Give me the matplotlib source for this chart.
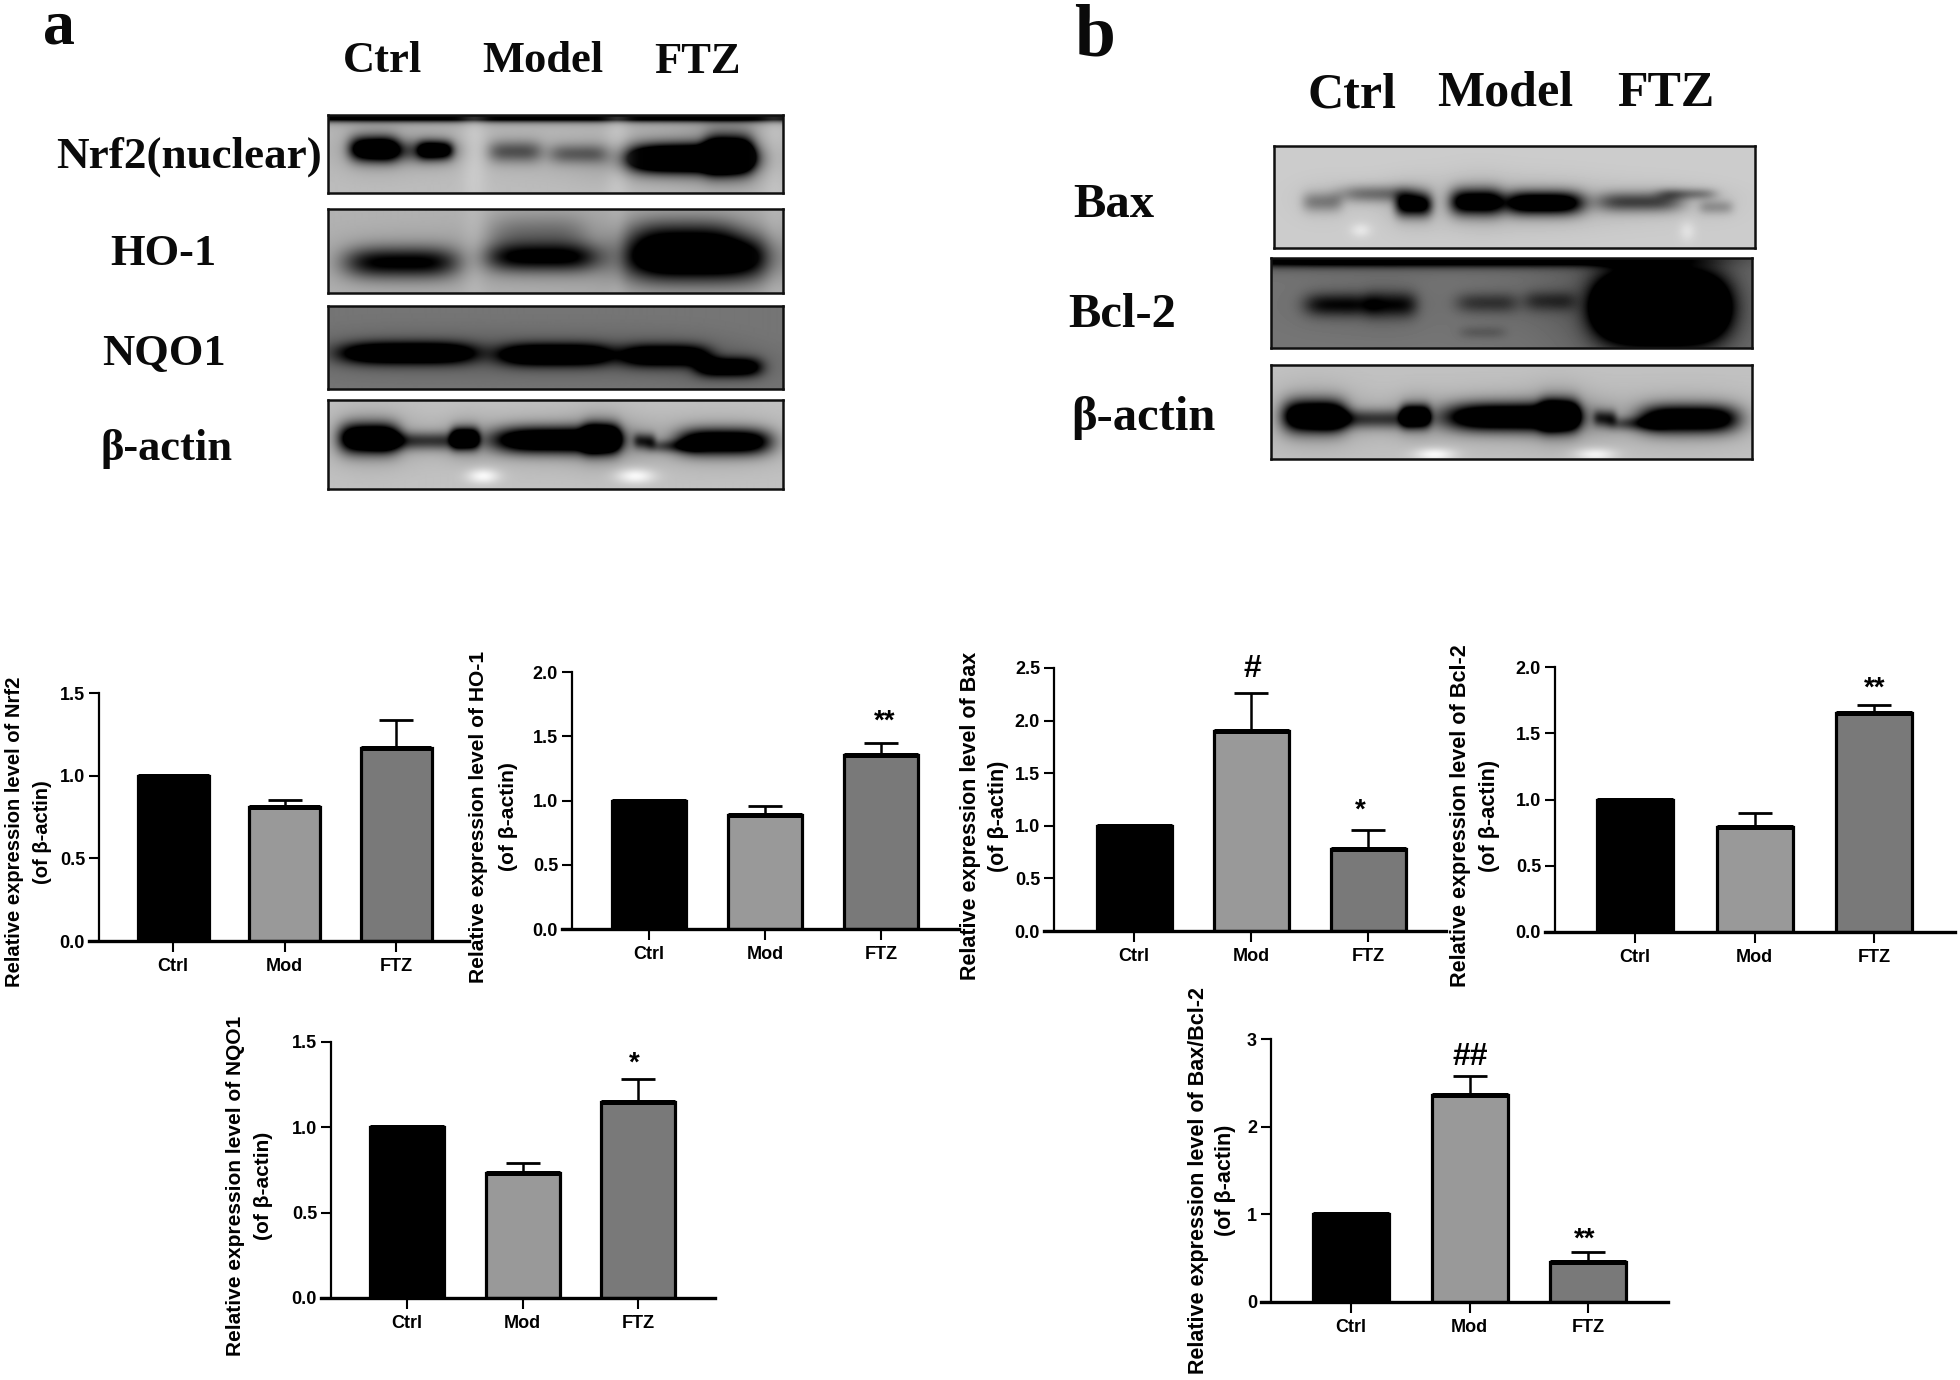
import numpy as np
import matplotlib
matplotlib.use("Agg")
import matplotlib.pyplot as plt

W, H = 1960, 1380
SANS = "Liberation Sans"
SERIF = "Liberation Serif"

groups = ["Ctrl", "Mod", "FTZ"]
bar_colors = ["#000000", "#999999", "#797979"]

nrf2_mean = [1.0, 0.81, 1.17]
nrf2_top = [1.0, 0.855, 1.335]
ho1_mean = [1.0, 0.89, 1.355]
ho1_top = [1.0, 0.955, 1.45]
bax_mean = [1.0, 1.90, 0.775]
bax_top = [1.0, 2.265, 0.96]
bcl2_mean = [1.0, 0.795, 1.65]
bcl2_top = [1.0, 0.90, 1.71]
nqo1_mean = [1.0, 0.735, 1.15]
nqo1_top = [1.0, 0.79, 1.285]
ratio_mean = [1.0, 2.36, 0.46]
ratio_top = [1.0, 2.58, 0.565]

ticks_15 = [0.0, 0.5, 1.0, 1.5]
ticks_20 = [0.0, 0.5, 1.0, 1.5, 2.0]
ticks_25 = [0.0, 0.5, 1.0, 1.5, 2.0, 2.5]
ticks_3 = [0, 1, 2, 3]

charts = [
    dict(name="Nrf2", mean=nrf2_mean, top=nrf2_top, ticks=ticks_15, fmt="{:.1f}",
         ax_x=99, x_end=469, y0=941, y_top=693, c1=173, c3=396, w=71,
         lab=(15, 43, 832, 14.5), sig=[]),
    dict(name="HO-1", mean=ho1_mean, top=ho1_top, ticks=ticks_20, fmt="{:.1f}",
         ax_x=572, x_end=959, y0=929, y_top=672, c1=649, c3=881, w=74,
         lab=(478, 508, 817, 15.1), sig=[("**", 885, 714)]),
    dict(name="Bax", mean=bax_mean, top=bax_top, ticks=ticks_25, fmt="{:.1f}",
         ax_x=1054, x_end=1446, y0=931, y_top=668, c1=1134, c3=1368, w=75,
         lab=(970, 998, 816, 15.5), sig=[("#", 1252, 666), ("*", 1360, 803)]),
    dict(name="Bcl-2", mean=bcl2_mean, top=bcl2_top, ticks=ticks_20, fmt="{:.1f}",
         ax_x=1555, x_end=1955, y0=932, y_top=667, c1=1635, c3=1874, w=76,
         lab=(1460, 1489, 816, 15.6), sig=[("**", 1875, 681)]),
    dict(name="NQO1", mean=nqo1_mean, top=nqo1_top, ticks=ticks_15, fmt="{:.1f}",
         ax_x=331, x_end=715, y0=1298, y_top=1042, c1=407, c3=638, w=74,
         lab=(235, 263, 1186, 15.0), sig=[("*", 634, 1056)]),
    dict(name="Bax/Bcl-2", mean=ratio_mean, top=ratio_top, ticks=ticks_3, fmt="{:d}",
         ax_x=1271, x_end=1668, y0=1302, y_top=1039, c1=1351, c3=1588, w=76,
         lab=(1198, 1226, 1180, 15.5), sig=[("##", 1470, 1054), ("**", 1585, 1232)]),
]

# band tuples: centre x, centre y, half width x, sigma y, strength (fractions of the blot)
blots = [
    dict(box=(328, 115, 783, 193), bg=0.74,
         bands=[(.10, .43, .045, .11, 1.2), (.235, .45, .032, .08, 1.0), (.17, .46, .09, .10, .5),
                (.41, .47, .05, .10, .5), (.55, .50, .055, .09, .42), (.79, .56, .115, .12, 2.0),
                (.88, .50, .045, .16, 1.4), (.5, .0, .9, .05, 1.6)],
         lights=[(.32, .5, .02, .6, .25), (.635, .5, .02, .6, .25), (.98, .5, .02, .6, .2)]),
    dict(box=(328, 209, 783, 293), bg=0.70,
         bands=[(.16, .64, .105, .13, .95), (.47, .58, .105, .12, .9), (.46, .30, .09, .17, .3),
                (.81, .58, .135, .19, 1.4), (.78, .30, .1, .15, .4)],
         lights=[(.32, .5, .02, .6, .15), (.635, .5, .015, .6, .12), (.98, .5, .02, .6, .15)]),
    dict(box=(328, 306, 783, 389), bg=0.46,
         bands=[(.175, .57, .125, .09, 1.8), (.50, .59, .105, .09, 1.8), (.74, .60, .08, .09, 1.6),
                (.88, .74, .06, .08, 1.5)],
         lights=[]),
    dict(box=(328, 400, 783, 489), bg=0.76,
         bands=[(.09, .43, .055, .115, 1.5), (.20, .46, .10, .07, .6), (.30, .43, .026, .08, 1.4),
                (.50, .45, .115, .10, 1.5), (.60, .43, .035, .11, 1.3), (.695, .46, .02, .06, .6),
                (.87, .47, .085, .10, 1.4), (.76, .52, .05, .05, .45)],
         lights=[(.34, .86, .025, .06, .9), (.675, .86, .03, .06, .9)]),
    dict(box=(1274, 146, 1755, 248), bg=0.80,
         bands=[(.10, .55, .035, .07, .35), (.22, .47, .07, .06, .4), (.29, .58, .032, .08, 1.1),
                (.42, .55, .045, .09, 1.2), (.56, .56, .07, .08, 1.3), (.76, .55, .075, .07, .6),
                (.86, .47, .05, .04, .35), (.92, .60, .03, .05, .25)],
         lights=[(.18, .83, .015, .05, .5), (.86, .84, .012, .07, .4)]),
    dict(box=(1271, 258, 1752, 348), bg=0.46,
         bands=[(.14, .52, .06, .09, .85), (.25, .52, .045, .10, .85), (.45, .50, .055, .08, .5),
                (.58, .48, .045, .08, .5), (.81, .55, .11, .23, 4.0), (.44, .83, .04, .05, .2),
                (.3, .0, .45, .06, 1.6)],
         lights=[]),
    dict(box=(1271, 365, 1752, 459), bg=0.76,
         bands=[(.09, .55, .055, .115, 1.5), (.20, .58, .10, .07, .6), (.30, .55, .026, .08, 1.4),
                (.50, .56, .115, .10, 1.5), (.60, .54, .035, .11, 1.3), (.695, .57, .02, .06, .6),
                (.87, .58, .085, .10, 1.4), (.76, .63, .05, .05, .45)],
         lights=[(.34, .96, .03, .05, .9), (.675, .96, .03, .05, .8)]),
]

# text, centre x, baseline y, font size
blot_labels = [
    ("a", 59, 44, 46), ("b", 1094, 55, 53),
    ("Ctrl", 382, 72, 32), ("Model", 543, 72, 32), ("FTZ", 697, 73, 32),
    ("Nrf2(nuclear)", 189, 168, 32.5), ("HO-1", 163, 265, 32), ("NQO1", 164, 365, 32),
    ("β-actin", 166, 460, 32),
    ("Ctrl", 1352, 108, 36), ("Model", 1505, 106, 36), ("FTZ", 1666, 106, 36),
    ("Bax", 1114, 217, 35), ("Bcl-2", 1122, 327, 35), ("β-actin", 1143, 430, 35),
]


def px_axes(l, t, r, b):
    return fig.add_axes([l / W, 1 - b / H, (r - l) / W, (b - t) / H])


fig = plt.figure(figsize=(W / 100, H / 100), dpi=100, facecolor="white")

for blot in blots:
    l, t, r, b = blot["box"]
    ax = px_axes(l, t, r, b)
    xx, yy = np.meshgrid(np.linspace(0, 1, r - l), np.linspace(0, 1, b - t))
    dark = np.zeros_like(xx)
    for cx, cy, sx, sy, amp in blot["bands"]:
        ux = np.abs(xx - cx) / sx
        dark += amp * np.exp(-0.5 * ux ** 4 - (yy - cy) ** 2 / (2 * sy ** 2))
        dark += 0.12 * amp * np.exp(-0.5 * (ux / 1.25) ** 2 - (yy - cy) ** 2 / (2 * (2 * sy) ** 2))
    light = np.zeros_like(xx)
    for cx, cy, sx, sy, amp in blot["lights"]:
        light += amp * np.exp(-((xx - cx) ** 2 / (2 * sx ** 2) + (yy - cy) ** 2 / (2 * sy ** 2)))
    gray = blot["bg"] * (1 - np.clip(dark, 0, 1))
    gray = gray + (1 - gray) * np.clip(light, 0, 1)
    ax.imshow(gray, cmap="gray", vmin=0, vmax=1, aspect="auto", interpolation="bilinear")
    ax.set_xticks([])
    ax.set_yticks([])
    for s in ax.spines.values():
        s.set_linewidth(1.8)
        s.set_color("#101010")

for txt, x, y, size in blot_labels:
    fig.text(x / W, 1 - y / H, txt, family=[SERIF, "DejaVu Serif"], weight="bold", fontsize=size,
             ha="center", va="baseline", color="#0a0a0a")

for c in charts:
    ax = px_axes(c["ax_x"], c["y_top"], c["x_end"], c["y0"])
    ax.patch.set_alpha(0)
    d = (c["c3"] - c["c1"]) / 2
    ax.set_xlim((c["ax_x"] - c["c1"]) / d, (c["x_end"] - c["c1"]) / d)
    ax.set_ylim(0, c["ticks"][-1])
    x = np.arange(3)
    bw = c["w"] / d
    for i in x:
        m, tp = c["mean"][i], c["top"][i]
        if tp > m:
            ax.errorbar(i, m, yerr=[[0], [tp - m]], color="black", elinewidth=1.8,
                        capsize=12.5, capthick=2.0, zorder=1)
        ax.bar(i, m, width=bw, color=bar_colors[i], edgecolor="black", linewidth=2.3, zorder=2)
        ax.hlines(m, i - bw / 2, i + bw / 2, color="black", linewidth=3.6, zorder=3)
    ax.spines["top"].set_visible(False)
    ax.spines["right"].set_visible(False)
    ax.spines["left"].set_linewidth(1.6)
    ax.spines["bottom"].set_linewidth(2.4)
    ax.spines["bottom"].set_bounds((c["ax_x"] - 10 - c["c1"]) / d, (c["x_end"] - c["c1"]) / d)
    ax.spines["bottom"].set_zorder(5)
    ax.set_xticks(x)
    ax.set_xticklabels(groups, family=SANS, weight="bold", fontsize=13)
    ax.set_yticks(c["ticks"])
    ax.set_yticklabels([c["fmt"].format(v) for v in c["ticks"]], family=SANS, weight="bold",
                       fontsize=13)
    ax.tick_params(axis="x", length=8, width=1.5, pad=4)
    ax.tick_params(axis="y", length=7, width=1.5, pad=3)
    x1, x2, yc, lab_size = c["lab"]
    fig.text(x1 / W, 1 - yc / H, "Relative expression level of " + c["name"], family=SANS,
             weight="bold", fontsize=lab_size, rotation=90, ha="center", va="center")
    fig.text(x2 / W, 1 - yc / H, "(of β-actin)", family=SANS, weight="bold", fontsize=lab_size,
             rotation=90, ha="center", va="center")
    for mark, mx, my in c["sig"]:
        off = 15 if "*" in mark else 11
        fig.text(mx / W, 1 - (my + off) / H, mark, family=SANS, weight="bold",
                 fontsize=20 if "*" in mark else 23, ha="center", va="baseline", color="black")

fig.savefig("out.png", dpi=100, facecolor="white")
